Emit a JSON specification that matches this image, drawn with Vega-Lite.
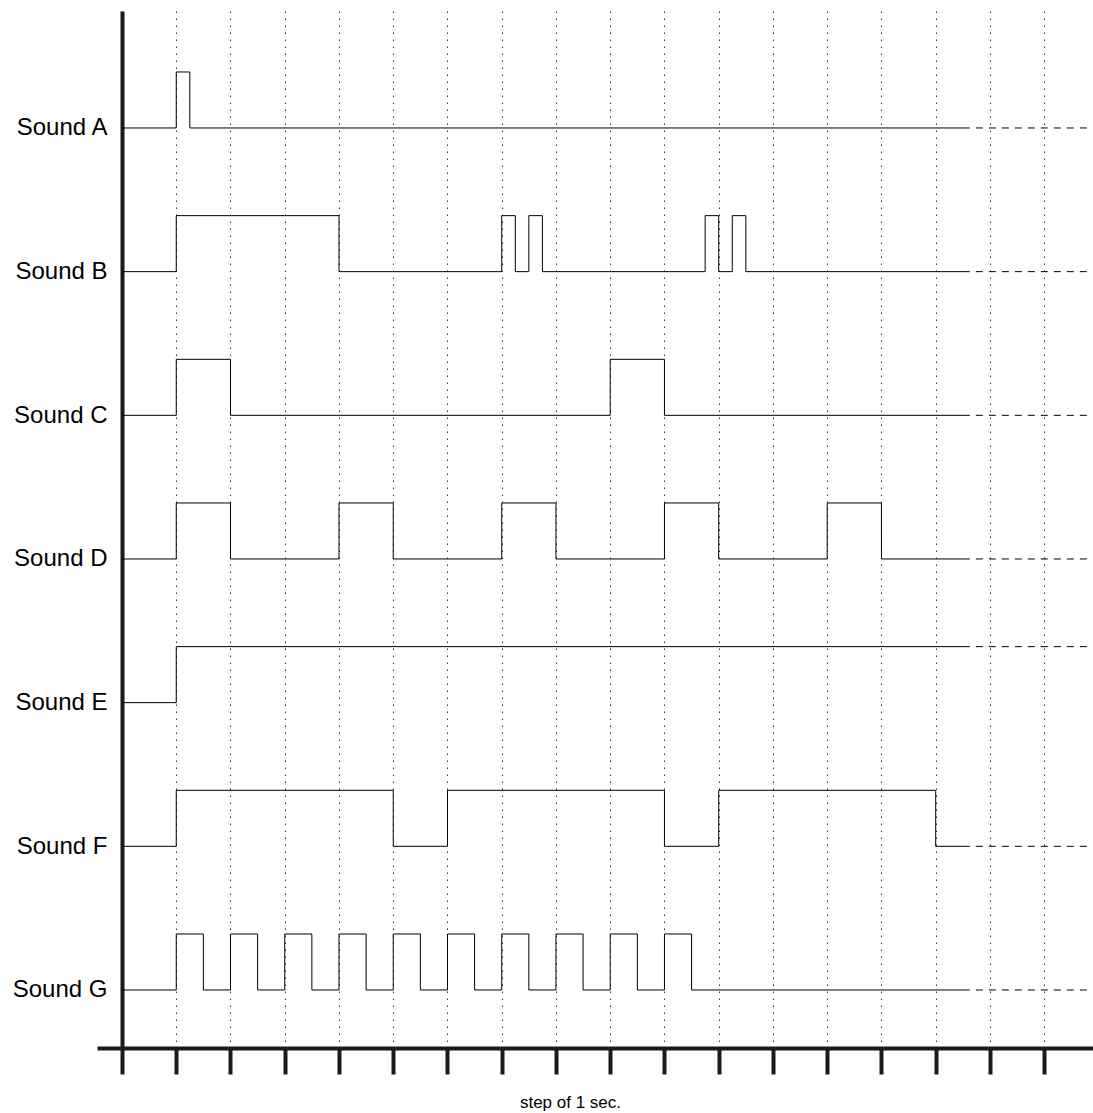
{
  "$schema": "https://vega.github.io/schema/vega-lite/v6.json",
  "autosize": {"type": "none"},
  "padding": {"left": 97, "top": 11, "right": 0, "bottom": 65},
  "width": 996,
  "height": 1037,
  "background": "white",
  "config": {"view": {"stroke": null}, "font": "Liberation Sans"},
  "datasets": {
    "solid": [
      {"sound": "Sound A", "t": 0, "level": 0}, {"sound": "Sound A", "t": 1, "level": 1}, {"sound": "Sound A", "t": 1.25, "level": 0}, {"sound": "Sound A", "t": 15.5, "level": 0},
      {"sound": "Sound B", "t": 0, "level": 0}, {"sound": "Sound B", "t": 1, "level": 1}, {"sound": "Sound B", "t": 4, "level": 0}, {"sound": "Sound B", "t": 7, "level": 1}, {"sound": "Sound B", "t": 7.25, "level": 0}, {"sound": "Sound B", "t": 7.5, "level": 1}, {"sound": "Sound B", "t": 7.75, "level": 0}, {"sound": "Sound B", "t": 10.75, "level": 1}, {"sound": "Sound B", "t": 11, "level": 0}, {"sound": "Sound B", "t": 11.25, "level": 1}, {"sound": "Sound B", "t": 11.5, "level": 0}, {"sound": "Sound B", "t": 15.5, "level": 0},
      {"sound": "Sound C", "t": 0, "level": 0}, {"sound": "Sound C", "t": 1, "level": 1}, {"sound": "Sound C", "t": 2, "level": 0}, {"sound": "Sound C", "t": 9, "level": 1}, {"sound": "Sound C", "t": 10, "level": 0}, {"sound": "Sound C", "t": 15.5, "level": 0},
      {"sound": "Sound D", "t": 0, "level": 0}, {"sound": "Sound D", "t": 1, "level": 1}, {"sound": "Sound D", "t": 2, "level": 0}, {"sound": "Sound D", "t": 4, "level": 1}, {"sound": "Sound D", "t": 5, "level": 0}, {"sound": "Sound D", "t": 7, "level": 1}, {"sound": "Sound D", "t": 8, "level": 0}, {"sound": "Sound D", "t": 10, "level": 1}, {"sound": "Sound D", "t": 11, "level": 0}, {"sound": "Sound D", "t": 13, "level": 1}, {"sound": "Sound D", "t": 14, "level": 0}, {"sound": "Sound D", "t": 15.5, "level": 0},
      {"sound": "Sound E", "t": 0, "level": 0}, {"sound": "Sound E", "t": 1, "level": 1}, {"sound": "Sound E", "t": 15.5, "level": 1},
      {"sound": "Sound F", "t": 0, "level": 0}, {"sound": "Sound F", "t": 1, "level": 1}, {"sound": "Sound F", "t": 5, "level": 0}, {"sound": "Sound F", "t": 6, "level": 1}, {"sound": "Sound F", "t": 10, "level": 0}, {"sound": "Sound F", "t": 11, "level": 1}, {"sound": "Sound F", "t": 15, "level": 0}, {"sound": "Sound F", "t": 15.5, "level": 0},
      {"sound": "Sound G", "t": 0, "level": 0}, {"sound": "Sound G", "t": 1, "level": 1}, {"sound": "Sound G", "t": 1.5, "level": 0}, {"sound": "Sound G", "t": 2, "level": 1}, {"sound": "Sound G", "t": 2.5, "level": 0}, {"sound": "Sound G", "t": 3, "level": 1}, {"sound": "Sound G", "t": 3.5, "level": 0}, {"sound": "Sound G", "t": 4, "level": 1}, {"sound": "Sound G", "t": 4.5, "level": 0}, {"sound": "Sound G", "t": 5, "level": 1}, {"sound": "Sound G", "t": 5.5, "level": 0}, {"sound": "Sound G", "t": 6, "level": 1}, {"sound": "Sound G", "t": 6.5, "level": 0}, {"sound": "Sound G", "t": 7, "level": 1}, {"sound": "Sound G", "t": 7.5, "level": 0}, {"sound": "Sound G", "t": 8, "level": 1}, {"sound": "Sound G", "t": 8.5, "level": 0}, {"sound": "Sound G", "t": 9, "level": 1}, {"sound": "Sound G", "t": 9.5, "level": 0}, {"sound": "Sound G", "t": 10, "level": 1}, {"sound": "Sound G", "t": 10.5, "level": 0}, {"sound": "Sound G", "t": 15.5, "level": 0}
    ],
    "dashed": [
      {"sound": "Sound A", "t": 15.5, "level": 0}, {"sound": "Sound A", "t": 17.85, "level": 0},
      {"sound": "Sound B", "t": 15.5, "level": 0}, {"sound": "Sound B", "t": 17.85, "level": 0},
      {"sound": "Sound C", "t": 15.5, "level": 0}, {"sound": "Sound C", "t": 17.85, "level": 0},
      {"sound": "Sound D", "t": 15.5, "level": 0}, {"sound": "Sound D", "t": 17.85, "level": 0},
      {"sound": "Sound E", "t": 15.5, "level": 1}, {"sound": "Sound E", "t": 17.85, "level": 1},
      {"sound": "Sound F", "t": 15.5, "level": 0}, {"sound": "Sound F", "t": 17.85, "level": 0},
      {"sound": "Sound G", "t": 15.5, "level": 0}, {"sound": "Sound G", "t": 17.85, "level": 0}
    ]
  },
  "encoding": {
    "x": {
      "field": "t", "type": "quantitative",
      "scale": {"domain": [-0.461, 17.9], "nice": false, "zero": false},
      "axis": {
        "values": [0, 1, 2, 3, 4, 5, 6, 7, 8, 9, 10, 11, 12, 13, 14, 15, 16, 17],
        "labels": false,
        "tickSize": 26, "tickWidth": 4, "tickColor": "#1a1a1a",
        "domainWidth": 4, "domainColor": "#1a1a1a",
        "grid": true, "gridColor": "#333333", "gridDash": [1.5, 5.5], "gridWidth": 1,
        "title": "step of 1 sec.",
        "titleFont": "Liberation Sans", "titleFontSize": 17, "titleFontWeight": "normal", "titleColor": "#000000",
        "titleX": 473, "titleY": 59, "titleAlign": "center", "titleBaseline": "alphabetic", "titleAngle": 0
      }
    },
    "y": {
      "field": "ypos", "type": "quantitative",
      "scale": {"domain": [-16.429, 2.089], "nice": false, "zero": false},
      "axis": {
        "values": [0, -2.5655, -5.131, -7.6965, -10.262, -12.8275, -15.393],
        "labelExpr": "['Sound A','Sound B','Sound C','Sound D','Sound E','Sound F','Sound G'][round(-datum.value / 2.5655)]",
        "title": null, "ticks": false, "grid": false,
        "labelFont": "Liberation Sans", "labelFontSize": 24, "labelColor": "#000000",
        "labelPadding": 15, "labelBaseline": "middle",
        "domainWidth": 4, "domainColor": "#1a1a1a", "offset": -25
      }
    },
    "detail": {"field": "sound"}
  },
  "layer": [
    {
      "data": {"name": "solid"},
      "transform": [
        {"calculate": "datum.level - 2.5655 * indexof(['Sound A','Sound B','Sound C','Sound D','Sound E','Sound F','Sound G'], datum.sound)", "as": "ypos"}
      ],
      "mark": {"type": "line", "interpolate": "step-after", "color": "#000000", "strokeWidth": 1}
    },
    {
      "data": {"name": "dashed"},
      "transform": [
        {"calculate": "datum.level - 2.5655 * indexof(['Sound A','Sound B','Sound C','Sound D','Sound E','Sound F','Sound G'], datum.sound)", "as": "ypos"}
      ],
      "mark": {"type": "line", "color": "#000000", "strokeWidth": 1, "strokeDash": [7, 6]}
    }
  ]
}
